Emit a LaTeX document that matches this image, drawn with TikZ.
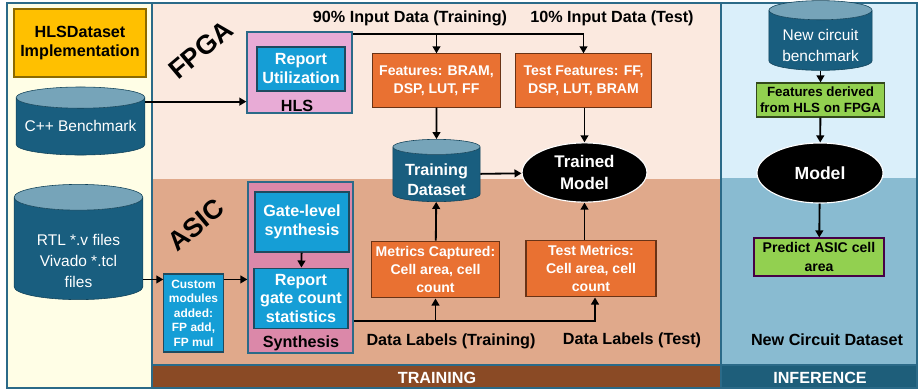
\documentclass[tikz,border=0pt]{standalone}
\usepackage{fontspec}
\setmainfont{Liberation Sans}
\usetikzlibrary{shapes.geometric,arrows.meta,positioning}

\definecolor{frameline}{HTML}{2B6A88}
\definecolor{leftbg}{HTML}{FFFEE6}
\definecolor{fpgabg}{HTML}{FBE9DF}
\definecolor{asicbg}{HTML}{E0A98B}
\definecolor{trainbar}{HTML}{8A4A25}
\definecolor{infertop}{HTML}{DAEFFA}
\definecolor{inferbot}{HTML}{89BBD1}
\definecolor{inferbar}{HTML}{1E5E7A}
\definecolor{cylbody}{HTML}{195E7F}
\definecolor{cyltop}{HTML}{76A4B9}
\definecolor{stepblue}{HTML}{159ED6}
\definecolor{featorange}{HTML}{E97132}
\definecolor{hlspink}{HTML}{E8ABD6}
\definecolor{synthpink}{HTML}{DB88A9}
\definecolor{infergreen}{HTML}{92D050}
\definecolor{implgold}{HTML}{FFC000}

% text of a cylinder, lowered into its body
\newcommand{\dblines}[2]{\raisebox{#1}[\height][\depth]{\begin{tabular}{@{}c@{}}#2\end{tabular}}}

\begin{document}
\begin{tikzpicture}[x=0.025cm, y=-0.025cm]
	\tikzstyle{db} = [cylinder, shape border rotate=90, aspect=0.2, anchor=shape center, draw=cylbody!70!black, cylinder uses custom fill, cylinder body fill=cylbody, cylinder end fill=cyltop, text=white, font=\fontsize{11}{14}\selectfont, inner sep=0pt]
	\tikzstyle{blu} = [rectangle, draw=frameline!70!black, line width=0.8pt, fill=stepblue, text=white, align=center, font=\bfseries\fontsize{11.5}{13.5}\selectfont, inner sep=0pt]
	\tikzstyle{feat} = [rectangle, draw=featorange!45!black, line width=0.8pt, fill=featorange, text=white, align=center, font=\bfseries\fontsize{10}{12.5}\selectfont, inner sep=0pt]
	\tikzstyle{grn} = [rectangle, draw=infergreen!35!black, line width=0.8pt, fill=infergreen, align=center, font=\bfseries\fontsize{9.5}{11.5}\selectfont, inner sep=0pt]
	\tikzstyle{mdl} = [ellipse, fill=black, draw=white, line width=0.8pt, text=white, align=center, font=\bfseries\fontsize{12}{15}\selectfont, inner sep=0pt]
	\tikzstyle{tag} = [font=\bfseries\fontsize{11.5}{14}\selectfont]
	\tikzstyle{arr} = [-{Triangle[length=5pt,width=5.5pt]}, line width=1.3pt]

	\useasboundingbox (0,0) rectangle (920,390);

	% panels
	\fill[leftbg] (7,3) rectangle (152,387);
	\fill[fpgabg] (152,3) rectangle (720,179);
	\fill[asicbg] (152,179) rectangle (720,365);
	\fill[trainbar] (152,365) rectangle (720,388);
	\fill[infertop] (720,3) rectangle (917,178);
	\fill[inferbot] (720,178) rectangle (917,365);
	\fill[inferbar] (720,365) rectangle (917,388);
	\draw[frameline, line width=1.2pt] (7,3) rectangle (917,388);
	\draw[frameline, line width=1.2pt] (152,3) -- (152,388);
	\draw[frameline, line width=1.2pt] (721,3) -- (721,388);
	\draw[frameline, line width=1.2pt] (152,365) -- (917,365);

	% left column
	\node [rectangle, draw=implgold!55!black, line width=0.8pt, fill=implgold, minimum width=3.3cm, minimum height=1.7cm, align=center, font=\bfseries\fontsize{11.5}{14}\selectfont] (impl) at (80,43) {HLSDataset\\Implementation};
	\node [db, aspect=0.19, minimum width=3.22cm, minimum height=1.7cm] (cpp) at (80.5,121) {C++ Benchmark};
	\node [db, aspect=0.31, minimum width=3.22cm, minimum height=2.88cm, font=\fontsize{11}{15}\selectfont] (rtl) at (78.5,242) {\dblines{-0.35cm}{RTL *.v files\\Vivado *.tcl\\files}};

	% FPGA part
	\node [rotate=40, font=\bfseries\fontsize{19}{20}\selectfont] (fpga) at (201,50) {FPGA};
	\node [rectangle, draw=frameline, line width=1pt, fill=hlspink, minimum width=2.62cm, minimum height=2.02cm] (hls) at (299.5,72.5) {};
	\node [blu, minimum width=2.2cm, minimum height=1.1cm] (util) at (301,69) {Report\\Utilization};
	\node [tag] (hlstag) at (297,105.5) {HLS};
	\coordinate (hlsin) at ([yshift=0.3cm]hls.south west);
	\draw [arr] (cpp.east |- hlsin) -- (hlsin);

	\node [feat, minimum width=3.18cm, minimum height=1.33cm] (feats) at (436.5,80.5) {Features: BRAM,\\DSP, LUT, FF};
	\node [feat, minimum width=3.38cm, minimum height=1.33cm] (testfeats) at (583.5,80.5) {Test Features: FF,\\DSP, LUT, BRAM};
	\node [tag] (trainin) at (410,18) {90\% Input Data (Training)};
	\node [tag] (testin) at (612,18) {10\% Input Data (Test)};
	\coordinate (toprail) at ([yshift=-0.075cm]hls.north east);
	\draw [arr] (toprail) -| (testfeats.north);
	\draw [arr] (feats.north |- toprail) -- (feats.north);

	\node [db, aspect=0.24, minimum width=2.18cm, minimum height=1.48cm, font=\bfseries\fontsize{11.5}{14}\selectfont] (trainset) at (436.5,170.5) {\dblines{-0.175cm}{Training\\Dataset}};
	\node [mdl, minimum width=3.12cm, minimum height=1.48cm] (trained) at (584.5,172.5) {Trained\\Model};
	\draw [arr] (feats) -- (trainset);
	\draw [arr] (testfeats.south -| trained) -- (trained.north);
	\draw [arr] (trainset) -- (trained);

	% ASIC part
	\node [rotate=40, font=\bfseries\fontsize{19}{20}\selectfont] (asic) at (196,225) {ASIC};
	\node [rectangle, draw=frameline, line width=1pt, fill=synthpink, minimum width=2.62cm, minimum height=4.28cm] (synth) at (300.5,267.5) {};
	\node [blu, minimum width=2.35cm, minimum height=1.5cm] (gate) at (302,222) {Gate-level\\synthesis};
	\node [blu, minimum width=2.35cm, minimum height=1.52cm] (gatecount) at (301,298.5) {Report\\gate count\\statistics};
	\draw [arr] (gate) -- (gatecount);
	\node [tag] (synthtag) at (301,343) {Synthesis};

	\node [blu, font=\bfseries\fontsize{8.5}{10.3}\selectfont, minimum width=1.48cm, minimum height=1.95cm] (custom) at (193.5,313) {Custom\\modules\\added:\\FP add,\\FP mul};
	\coordinate (customin) at ([yshift=-0.15cm]custom.north west);
	\draw [arr] (rtl.east |- customin) -- (customin);
	\draw [arr] (customin -| custom.east) -- (customin -| synth.west);

	\node [feat, minimum width=3.22cm, minimum height=1.42cm] (metrics) at (435.5,269.5) {Metrics Captured:\\Cell area, cell\\count};
	\node [feat, minimum width=3.25cm, minimum height=1.42cm] (testmetrics) at (591,268.5) {Test Metrics:\\Cell area, cell\\count};
	\draw [arr] (metrics) -- (trainset);
	\draw [arr] (testmetrics.north -| trained) -- (trained.south);

	\coordinate (botrail) at ([yshift=0.825cm]synth.south east);
	\coordinate (labtest) at ([xshift=0.1cm]testmetrics.south);
	\draw [arr] (botrail) -| (labtest);
	\draw [arr] (botrail -| metrics) -- (metrics.south);
	\node [tag] (trainlab) at (451,341) {Data Labels (Training)};
	\node [tag] (testlab) at (632,340) {Data Labels (Test)};

	% inference
	\node [db, aspect=0.25, minimum width=2.58cm, minimum height=1.48cm, font=\fontsize{11}{14.5}\selectfont] (newbench) at (820.5,35.5) {\dblines{-0.16cm}{New circuit\\benchmark}};
	\node [grn, minimum width=3.18cm, minimum height=0.85cm] (derived) at (820.5,100) {Features derived\\from HLS on FPGA};
	\node [mdl, font=\bfseries\fontsize{12.5}{15}\selectfont, minimum width=3.15cm, minimum height=1.5cm] (model) at (820,173) {Model};
	\node [grn, draw=violet!55!black, font=\bfseries\fontsize{10}{13}\selectfont, minimum width=3.25cm, minimum height=0.95cm] (predict) at (819,257) {Predict ASIC cell\\area};
	\draw [arr] (newbench) -- (derived);
	\draw [arr] (derived) -- (model);
	\draw [arr] (model) -- (predict);
	\node [tag] (newset) at (827,340) {New Circuit Dataset};

	% bars
	\node [tag, text=white] (trainbarlab) at (437,378) {TRAINING};
	\node [tag, text=white] (inferbarlab) at (820,378) {INFERENCE};
\end{tikzpicture}
\end{document}
